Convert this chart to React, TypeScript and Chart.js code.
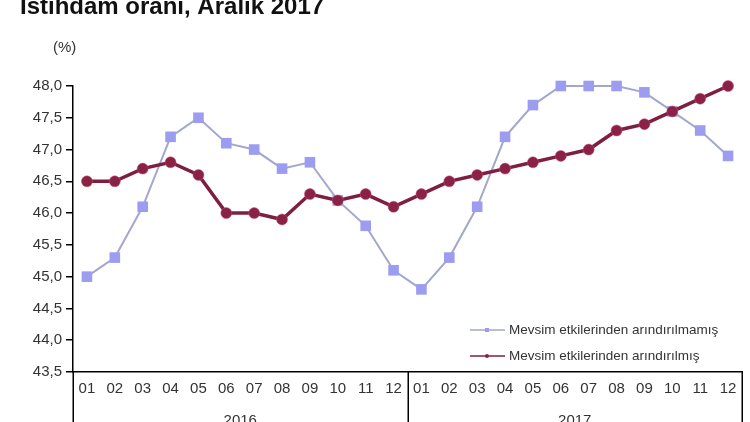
import React, { useEffect, useRef } from "react";
import { Chart, registerables } from "chart.js";
Chart.register(...registerables);

const title = "İstihdam oranı, Aralık 2017";
const unitLabel = "(%)";
const months = ["01","02","03","04","05","06","07","08","09","10","11","12","01","02","03","04","05","06","07","08","09","10","11","12"];
const years = ["2016", "2017"];
const seriesNames = ["Mevsim etkilerinden arındırılmamış", "Mevsim etkilerinden arındırılmış"];
const unadjusted = [45.0,45.3,46.1,47.2,47.5,47.1,47.0,46.7,46.8,46.2,45.8,45.1,44.8,45.3,46.1,47.2,47.7,48.0,48.0,48.0,47.9,47.6,47.3,46.9];
const adjusted = [46.5,46.5,46.7,46.8,46.6,46.0,46.0,45.9,46.3,46.2,46.3,46.1,46.3,46.5,46.6,46.7,46.8,46.9,47.0,47.3,47.4,47.6,47.8,48.0];
const yMin = 43.5;
const yMax = 48.0;
const yStep = 0.5;

const FONT = "'Liberation Sans', Arial, sans-serif";
const BLUE_LINE = "#a2a7cc";
const BLUE_PT = "#9c9cf0";
const RED_LINE = "#7e1f40";
const RED_PT = "#8a2245";

const overlay = {
  id: "overlay",
  afterDraw(chart: any) {
    const ctx = chart.ctx;
    const x = chart.scales.x;
    const H = chart.height;
    ctx.save();
    // title
    ctx.fillStyle = "#111";
    ctx.font = `bold 24px ${FONT}`;
    ctx.textAlign = "left";
    ctx.textBaseline = "alphabetic";
    ctx.fillText(title, 20, 14);
    // unit
    ctx.fillStyle = "#333";
    ctx.font = `15px ${FONT}`;
    ctx.fillText(unitLabel, 53, 52);
    // separators
    ctx.strokeStyle = "#000";
    ctx.lineWidth = 1.5;
    const half = (x.getPixelForValue(1) - x.getPixelForValue(0)) / 2;
    const bounds = [x.left, x.getPixelForValue(11) + half, x.right];
    bounds.forEach((b: number) => {
      ctx.beginPath();
      ctx.moveTo(Math.round(b) + 0.25, x.top);
      ctx.lineTo(Math.round(b) + 0.25, H);
      ctx.stroke();
    });
    // years
    ctx.fillStyle = "#333";
    ctx.font = `15px ${FONT}`;
    ctx.textAlign = "center";
    ctx.textBaseline = "alphabetic";
    years.forEach((yr, i) => {
      ctx.fillText(yr, (bounds[i] + bounds[i + 1]) / 2, 425);
    });
    // legend
    const items = [
      { name: seriesNames[0], line: BLUE_LINE, pt: BLUE_PT, style: "rect", y: 330 },
      { name: seriesNames[1], line: RED_LINE, pt: RED_PT, style: "circle", y: 356 },
    ];
    ctx.font = `13.5px ${FONT}`;
    ctx.textAlign = "left";
    ctx.textBaseline = "middle";
    items.forEach((it) => {
      ctx.strokeStyle = it.line;
      ctx.lineWidth = 1.5;
      ctx.beginPath();
      ctx.moveTo(470, it.y);
      ctx.lineTo(505, it.y);
      ctx.stroke();
      ctx.fillStyle = it.pt;
      if (it.style === "rect") ctx.fillRect(485, it.y - 2, 4, 4);
      else {
        ctx.beginPath();
        ctx.arc(487, it.y, 2, 0, Math.PI * 2);
        ctx.fill();
      }
      ctx.fillStyle = "#333";
      ctx.fillText(it.name, 509, it.y);
    });
    ctx.restore();
  },
};

export default function App() {
  const ref = useRef<HTMLCanvasElement | null>(null);
  useEffect(() => {
    if (!ref.current) return;
    const chart = new Chart(ref.current, {
      type: "line",
      data: {
        labels: months,
        datasets: [
          {
            label: seriesNames[0],
            data: unadjusted,
            borderColor: BLUE_LINE,
            backgroundColor: BLUE_PT,
            borderWidth: 2,
            pointStyle: "rect",
            pointRadius: 7.5,
            pointBackgroundColor: BLUE_PT,
            pointBorderColor: BLUE_PT,
            pointBorderWidth: 0,
            tension: 0,
            clip: false,
            order: 2,
          },
          {
            label: seriesNames[1],
            data: adjusted,
            borderColor: RED_LINE,
            backgroundColor: RED_PT,
            borderWidth: 3.5,
            pointStyle: "circle",
            pointRadius: 5.5,
            pointBackgroundColor: RED_PT,
            pointBorderColor: "rgba(200,80,110,0.5)",
            pointBorderWidth: 1,
            tension: 0,
            clip: false,
            order: 1,
          },
        ],
      },
      options: {
        animation: false,
        responsive: false,
        maintainAspectRatio: false,
        layout: { padding: { left: 0, right: 8, top: 86, bottom: 0 } },
        plugins: { legend: { display: false }, title: { display: false }, tooltip: { enabled: false } },
        scales: {
          x: {
            type: "category",
            offset: true,
            grid: { display: true, drawOnChartArea: false, drawTicks: false },
            border: { display: true, color: "#000", width: 1.5 },
            ticks: { color: "#333", font: { family: FONT, size: 15 }, padding: 8, maxRotation: 0, autoSkip: false },
            afterFit: (s: any) => { s.height = 50; },
          },
          y: {
            min: yMin,
            max: yMax,
            grid: { display: true, drawOnChartArea: false, drawTicks: true, tickLength: 7, color: "#000", lineWidth: 1.5 },
            border: { display: true, color: "#000", width: 1.5 },
            ticks: {
              stepSize: yStep,
              color: "#333",
              font: { family: FONT, size: 15 },
              padding: 4,
              callback: (v: any) => Number(v).toFixed(1).replace(".", ","),
            },
            afterFit: (s: any) => { s.width = 73; },
          },
        },
      },
      plugins: [overlay],
    });
    return () => chart.destroy();
  }, []);
  return (
    <div style={{ position: "fixed", left: 0, top: 0, width: 750, height: 422, background: "#fff" }}>
      <canvas ref={ref} width={750} height={422} style={{ display: "block", width: 750, height: 422 }} />
    </div>
  );
}
